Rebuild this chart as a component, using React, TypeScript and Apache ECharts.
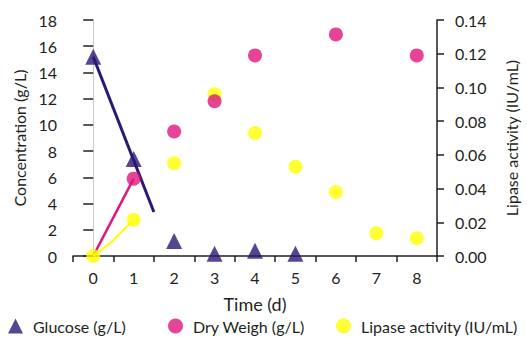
import { useEffect, useRef } from "react";
import * as echarts from "echarts";

const days = ["0", "1", "2", "3", "4", "5", "6", "7", "8"];
const glucose = [15.2, 7.4, 1.15, 0.18, 0.4, 0.18, null, null, null];
const dryWeight = [null, 5.9, 9.5, 11.8, 15.3, null, 16.9, null, 15.3];
const lipase = [0, 0.0215, 0.055, 0.096, 0.073, 0.053, 0.038, 0.0135, 0.0105];
const glucoseTrend = [
  [0, 15.2],
  [1.5, 3.35],
];
const dryWeightLine = [
  [0, 0],
  [1, 5.9],
];
const lipaseLine = [
  [0, 0],
  [0.45, 0.0083],
  [1, 0.0215],
];

const NAVY = "#2a1873";
const PINK = "#e0157c";
const YELLOW = "#ffff00";
const TEXT = "#231f20";
const FONT = "Lato";

export default function App() {
  const ref = useRef<HTMLDivElement>(null);
  useEffect(() => {
    const chart = echarts.init(ref.current!, null, { renderer: "svg" });
    const legendBase = {
      top: 313,
      itemWidth: 15,
      itemHeight: 15,
      textStyle: { fontFamily: FONT, fontSize: 16, color: TEXT, padding: [0, 0, 0, 5] },
    };
    chart.setOption({
      animation: false,
      textStyle: { fontFamily: FONT },
      grid: { left: 73, top: 20, width: 365, height: 236 },
      legend: [
        { ...legendBase, left: 3, data: ["Glucose (g/L)"] },
        { ...legendBase, left: 163, data: ["Dry Weigh (g/L)"] },
        { ...legendBase, left: 331, data: ["Lipase activity (IU/mL)"] },
      ],
      xAxis: [
        {
          type: "category",
          data: days,
          boundaryGap: true,
          name: "Time (d)",
          nameLocation: "middle",
          nameGap: 39,
          nameTextStyle: { fontFamily: FONT, fontSize: 18, color: TEXT },
          axisLine: { lineStyle: { color: TEXT, width: 1.5 } },
          axisTick: { show: true, length: 6, lineStyle: { color: TEXT, width: 1.5 } },
          axisLabel: { fontFamily: FONT, fontSize: 16, color: TEXT, margin: 13 },
          splitLine: { show: false },
        },
        {
          type: "value",
          min: -0.5,
          max: 8.5,
          show: false,
        },
      ],
      yAxis: [
        {
          type: "value",
          min: 0,
          max: 18,
          interval: 2,
          name: "Concentration (g/L)",
          nameLocation: "middle",
          nameGap: 46,
          nameTextStyle: { fontFamily: FONT, fontSize: 16, color: TEXT },
          axisLine: { show: true, lineStyle: { color: "#c8c8c8", width: 1 } },
          axisTick: { show: true, length: 10, lineStyle: { color: TEXT, width: 1.5 } },
          axisLabel: { fontFamily: FONT, fontSize: 16, color: TEXT, margin: 16 },
          splitLine: { show: false },
        },
        {
          type: "value",
          min: 0,
          max: 0.14,
          interval: 0.02,
          position: "right",
          name: "Lipase activity (IU/mL)",
          nameLocation: "middle",
          nameGap: 66,
          nameRotate: 90,
          nameTextStyle: { fontFamily: FONT, fontSize: 16, color: TEXT },
          axisLine: { show: true, lineStyle: { color: TEXT, width: 1.5 } },
          axisTick: { show: true, length: 7, lineStyle: { color: TEXT, width: 1.5 } },
          axisLabel: {
            fontFamily: FONT,
            fontSize: 16,
            color: TEXT,
            margin: 18,
            formatter: (v: number) => v.toFixed(2),
          },
          splitLine: { show: false },
        },
      ],
      series: [
        {
          type: "line",
          name: "glucose-trend",
          xAxisIndex: 1,
          yAxisIndex: 0,
          data: glucoseTrend,
          symbol: "none",
          lineStyle: { color: NAVY, width: 3 },
          z: 1,
        },
        {
          type: "line",
          name: "dry-line",
          xAxisIndex: 1,
          yAxisIndex: 0,
          data: dryWeightLine,
          symbol: "none",
          lineStyle: { color: PINK, width: 2.5 },
          z: 1,
        },
        {
          type: "line",
          name: "lipase-line",
          xAxisIndex: 1,
          yAxisIndex: 1,
          data: lipaseLine,
          symbol: "none",
          lineStyle: { color: YELLOW, width: 2 },
          z: 1,
        },
        {
          type: "scatter",
          name: "Lipase activity (IU/mL)",
          xAxisIndex: 0,
          yAxisIndex: 1,
          data: lipase,
          symbol: "circle",
          symbolSize: 14,
          itemStyle: { color: YELLOW },
          z: 2,
        },
        {
          type: "scatter",
          name: "Dry Weigh (g/L)",
          xAxisIndex: 0,
          yAxisIndex: 0,
          data: dryWeight,
          symbol: "circle",
          symbolSize: 14,
          itemStyle: { color: PINK },
          z: 3,
        },
        {
          type: "scatter",
          name: "Glucose (g/L)",
          xAxisIndex: 0,
          yAxisIndex: 0,
          data: glucose,
          symbol: "triangle",
          symbolSize: 16,
          itemStyle: { color: NAVY },
          z: 4,
        },
      ],
    });
    return () => chart.dispose();
  }, []);
  return <div ref={ref} style={{ width: 527, height: 337, position: "absolute", left: 0, top: 0 }} />;
}
